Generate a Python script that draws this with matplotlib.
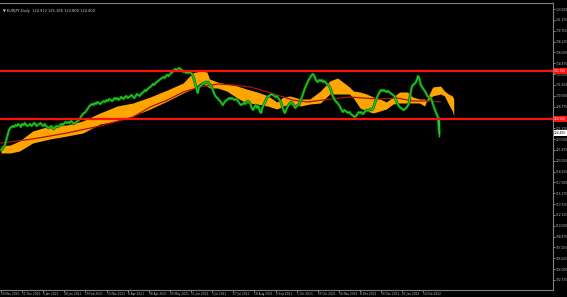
import matplotlib
matplotlib.use("Agg")
import matplotlib.pyplot as plt
import numpy as np

# EURJPY daily closes, one value per bar
closes = [
    121.85, 122.0, 122.3, 122.6, 123.35,
    124.1, 124.85, 125.15, 125.3, 125.45, 125.3,
    125.6, 125.45, 125.75, 125.6, 125.3, 125.75, 125.6, 125.9, 125.6, 125.45,
    125.6, 125.75, 125.45, 125.6, 125.9, 125.75, 125.45, 125.6, 125.75, 125.9, 125.6, 125.45, 125.75,
    125.45, 125.3, 125.15, 125.3, 125.45, 125.15, 125.0, 125.3, 125.45,
    125.3, 125.45, 125.6, 125.75, 125.6, 125.9, 126.05, 125.9,
    126.05, 125.9, 126.2, 126.05, 125.75, 125.9, 126.05, 126.2, 126.35, 126.65,
    126.95, 127.25, 127.4, 127.55, 127.85, 128.15, 128.45, 128.6,
    128.75, 128.6, 128.9, 128.75, 129.05, 128.9, 128.75, 128.9, 129.05,
    129.2, 129.05, 129.35, 129.2, 129.5, 129.35, 129.2, 129.35, 129.65,
    129.5, 129.65, 129.35, 129.5, 129.8, 129.65, 129.5, 129.8, 129.95, 129.65,
    129.8, 129.95, 130.1, 129.8, 129.65, 129.95, 130.25, 130.1, 129.95, 130.25,
    130.4, 130.55, 130.85, 130.7, 131.0, 131.15, 131.3,
    131.45, 131.75, 131.6, 131.9, 132.05, 132.2, 132.35, 132.5,
    132.65, 132.8, 132.65, 132.95, 133.1, 132.95, 133.25,
    133.4, 133.55, 133.85, 134.0, 133.85, 134.0, 134.15, 134.0, 133.85,
    133.55, 133.7, 133.4, 133.55, 133.4, 133.55, 133.4,
    133.1, 132.65, 131.9, 131.15, 130.4, 131.3,
    131.45, 131.6, 131.9, 131.75, 132.05, 131.9, 132.05, 131.75,
    131.45, 131.15, 130.55, 130.1, 129.8, 129.65, 129.35,
    129.2, 128.9, 128.6, 128.9, 129.2, 129.35, 129.5,
    129.65, 129.5, 129.65, 129.5, 129.35, 129.5, 129.35, 129.05, 128.75,
    128.6, 128.75, 128.9, 128.75, 129.05, 129.2, 129.05,
    128.75, 128.15, 127.85, 128.3, 128.6, 128.15, 128.45,
    127.7, 127.4, 128.15, 128.6, 129.05, 129.5, 129.8, 129.95,
    130.1, 130.25, 130.1, 129.95, 129.8, 129.95, 129.65, 129.35,
    129.05, 128.45, 127.85, 127.4, 127.85, 128.3, 128.6,
    128.9, 129.05, 128.75, 128.45, 128.15, 128.45, 128.6,
    128.75, 129.35, 129.8, 130.4, 131.0, 131.45, 131.9,
    132.35, 132.65, 132.95, 133.25, 133.1, 132.65, 132.2, 132.05,
    132.35, 132.2, 132.35, 132.05, 132.2, 131.9, 131.75, 131.6,
    131.3, 130.85, 130.1, 129.65, 129.35, 129.05, 128.9,
    128.6, 128.3, 127.85, 127.55, 127.85, 127.7, 127.55,
    127.4, 127.55, 127.25, 127.1, 126.95, 126.8, 126.95,
    127.25, 127.55, 127.4, 127.55, 127.25, 127.4, 127.7,
    127.85, 127.7, 127.85, 128.0, 127.85, 128.15,
    128.75, 129.35, 129.8, 130.25, 130.55, 130.85, 130.7,
    130.85, 130.7, 130.55, 130.7, 130.55, 130.4, 130.25,
    130.1, 129.95, 129.5, 128.9, 128.6, 128.3, 128.15,
    128.0, 127.85, 128.0, 128.15, 128.45,
    128.75, 129.95, 131.15, 131.6, 131.75, 131.9, 132.35,
    132.95, 132.5, 131.6, 131.3, 131.0, 130.7, 130.4,
    129.95, 129.8, 129.65, 129.5, 128.9, 128.3,
    127.7, 127.25, 126.8, 124.4,
]
last_low = 123.8

# slow moving average (bar index, value)
ma_idx = [0, 24, 50, 75, 100, 113, 126, 138, 151, 164, 176, 189, 202, 214,
          221, 232, 244, 264, 274, 287, 300, 312, 325, 333]
ma_val = [122.9, 123.5, 124.4, 125.45, 126.8, 128.3, 129.35, 130.55, 131.3,
          131.75, 131.6, 131.3, 130.55, 129.8, 129.35, 129.05, 129.35, 129.8,
          129.65, 129.5, 129.65, 129.2, 129.2, 129.05]

# ichimoku cloud edges (bar index, span A, span B)
cloud_idx = [0, 7, 14, 24, 37, 50, 62, 75, 88, 100, 113, 126, 138, 145, 151,
             156, 158, 164, 171, 179, 186, 194, 202, 209, 214, 219, 227, 234,
             242, 249, 255, 259, 264, 267, 272, 277, 282, 287, 292, 297, 302,
             308, 312, 317, 321, 322, 327, 333, 336, 339, 342, 343]
span_a = [122.45, 122.6, 123.2, 124.7, 125.45, 125.6, 126.2, 127.4, 128.45,
          128.9, 129.8, 130.85, 131.9, 133.4, 133.7, 133.55, 132.5, 132.05,
          131.75, 131.45, 131.0, 130.55, 130.0, 129.05, 129.8, 129.95, 129.5,
          129.5, 130.7, 132.2, 132.65, 132.05, 131.3, 130.7, 130.55, 130.25,
          129.8, 129.5, 129.05, 129.8, 130.55, 130.55, 129.8, 129.5, 129.5,
          129.2, 131.3, 131.45, 130.7, 130.25, 129.95, 129.5]
span_b = [121.4, 121.4, 121.7, 122.9, 123.5, 123.95, 124.4, 125.75, 126.2,
          126.95, 128.0, 129.2, 130.4, 131.0, 131.9, 131.45, 131.15, 131.15,
          130.7, 129.65, 128.9, 128.75, 128.45, 128.0, 128.45, 128.75, 128.45,
          128.75, 128.9, 130.25, 130.25, 130.25, 130.25, 129.65, 128.15, 127.7,
          127.4, 127.7, 128.0, 128.75, 128.9, 128.9, 128.9, 128.9, 128.45,
          129.05, 129.95, 130.25, 129.95, 128.75, 127.7, 126.95]

levels = [133.7, 126.5]

# right-scale labels (the ones under the red level boxes are hidden, as in MT4)
price_ticks = [143.0, 141.375, 139.75, 138.125, 136.5, 134.875, 133.25, 131.625,
               130.0, 128.375, 125.125, 123.5, 121.875, 120.25, 118.625,
               117.0, 115.375, 113.75, 112.125, 110.5, 108.875, 107.25, 105.625,
               104.0, 102.375]

date_labels = ["19 Nov 2020", "11 Dec 2020", "6 Jan 2021", "28 Jan 2021",
               "19 Feb 2021", "15 Mar 2021", "6 Apr 2021", "28 Apr 2021",
               "20 May 2021", "11 Jun 2021", "5 Jul 2021", "27 Jul 2021",
               "18 Aug 2021", "9 Sep 2021", "1 Oct 2021", "25 Oct 2021",
               "16 Nov 2021", "8 Dec 2021", "30 Dec 2021", "21 Jan 2022",
               "14 Feb 2022"]
label_step = 16

fig = plt.figure(figsize=(5.67, 2.97), dpi=100, facecolor="black")
ax = fig.add_axes([0.0, 7 / 297, 553 / 567, 287 / 297])
ax.set_facecolor("black")

ax.fill_between(cloud_idx, span_a, span_b, color="#ffa500", lw=0, zorder=2)
ax.plot(ma_idx, ma_val, color="#a81414", lw=0.9, zorder=3)

bars = np.arange(len(closes))
ax.plot(bars, closes, color="#0a6e0a", lw=2.0, zorder=4)
ax.plot(bars, closes, color="#22cc22", lw=0.9, zorder=5)
ax.vlines(bars[-1], last_low, closes[-2], color="#22cc22", lw=1.0, zorder=5)

for lv in levels:
    ax.axhline(lv, color="#ff1010", lw=1.6, zorder=6)

ax.set_xlim(-0.76, 418.2)
ax.set_ylim(100.85, 143.9)

ax.yaxis.tick_right()
ax.set_yticks(price_ticks)
ax.set_yticklabels([f"{p:.3f}" for p in price_ticks])
ax.tick_params(axis="y", colors="#c0c0c0", labelsize=2.1, length=1.2, width=0.5, pad=0.8)
ax.set_xticks(np.arange(len(date_labels)) * label_step)
ax.set_xticklabels(date_labels, ha="left")
ax.tick_params(axis="x", colors="#c0c0c0", labelsize=2.1, length=1.2, width=0.5, pad=0.5)

ax.spines["left"].set_visible(False)
for s in ["right", "bottom", "top"]:
    ax.spines[s].set_color("#808080")
    ax.spines[s].set_linewidth(0.8)

# price boxes on the axis
for lv in levels:
    ax.text(1.002, lv, f"{lv:.3f}", transform=ax.get_yaxis_transform(), fontsize=2.1,
            color="white", va="center", ha="left",
            bbox=dict(boxstyle="square,pad=0.2", fc="#ff1010", ec="none"))
ax.text(1.002, closes[-1], f"{closes[-1]:.3f}", transform=ax.get_yaxis_transform(),
        fontsize=2.1, color="black", va="center", ha="left",
        bbox=dict(boxstyle="square,pad=0.2", fc="white", ec="none"))

ax.text(0.006, 0.978, "\u25bc EURJPY,Daily  124.912 125.105 123.800 124.400",
        transform=ax.transAxes, fontsize=2.6, color="#d0d0d0", va="top", ha="left")

fig.savefig("out.png", dpi=100, facecolor="black")
